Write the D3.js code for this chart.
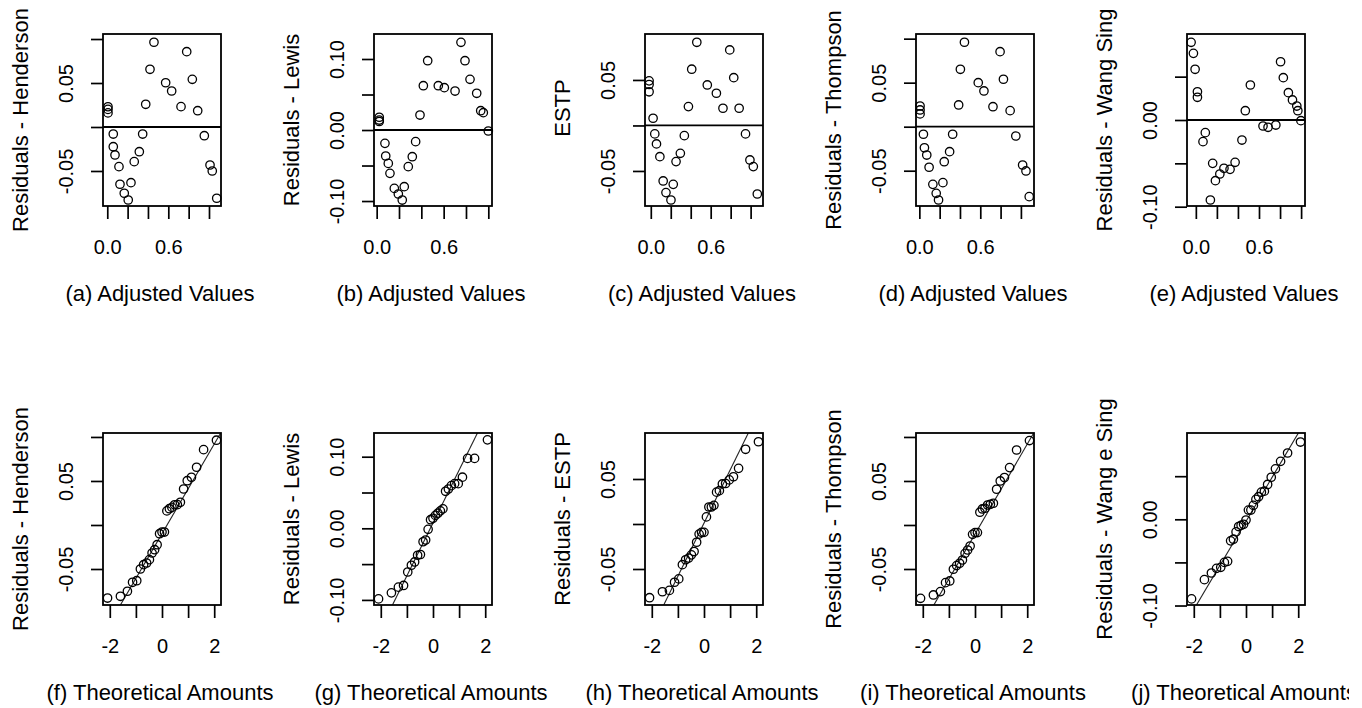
<!DOCTYPE html>
<html>
<head>
<meta charset="utf-8">
<script src="https://cdn.jsdelivr.net/npm/d3@7"></script>
<style>
  body { margin: 0; background: #fff; }
  text { font-family: "Liberation Sans", Arial, sans-serif; }
</style>
</head>
<body>
<div id="chart"></div>
<script>
// adjusted (fitted) values and residuals
const fitHenderson = [0.459,0.781,0.420,0.836,0.574,0.633,0.378,0.725,0.889,0.007,0.007,0.007,0.059,0.348,0.954,0.059,0.076,0.315,0.265,0.115,1.010,1.032,0.125,0.233,0.167,0.206,1.076];
const resHenderson = [0.0963,0.0856,0.0656,0.0542,0.0503,0.0409,0.0258,0.0231,0.0185,0.023,0.020,0.016,-0.008,-0.008,-0.0099,-0.0224,-0.0318,-0.0281,-0.0394,-0.0451,-0.0432,-0.050,-0.0651,-0.0633,-0.0753,-0.083,-0.081];

const fitLewis = [0.755,0.457,0.791,0.836,0.418,0.552,0.606,0.702,0.896,0.932,0.955,0.388,0.023,0.023,0.023,1.0,0.074,0.349,0.081,0.319,0.104,0.283,0.119,0.158,0.247,0.194,0.229];
const resLewis = [0.1235,0.0976,0.0976,0.0714,0.0624,0.0624,0.0596,0.0549,0.0517,0.0272,0.0244,0.0211,0.018,0.014,0.012,-0.0014,-0.0188,-0.0164,-0.0366,-0.0376,-0.047,-0.0516,-0.061,-0.0822,-0.0798,-0.0901,-0.0986];

const fitESTP = [0.461,0.791,0.410,0.831,0.566,0.657,0.377,0.723,0.885,-0.017,-0.017,-0.017,0.023,0.040,0.336,0.949,0.057,0.091,0.296,0.253,0.993,1.027,0.124,0.225,0.152,0.202,1.067];
const resESTP = [0.0914,0.0830,0.0618,0.0525,0.0445,0.0354,0.0207,0.0189,0.0189,0.049,0.045,0.037,0.0079,-0.0093,-0.0112,-0.0093,-0.0203,-0.0343,-0.0306,-0.0397,-0.0379,-0.0452,-0.061,-0.0647,-0.0738,-0.0819,-0.0753];

const fitThompson = [0.444,0.795,0.404,0.828,0.580,0.636,0.387,0.725,0.894,0.007,0.007,0.007,0.040,0.328,0.950,0.050,0.073,0.298,0.245,0.096,1.017,1.050,0.133,0.232,0.166,0.189,1.082];
const resThompson = [0.0959,0.0852,0.0652,0.0539,0.050,0.0406,0.0247,0.0227,0.0182,0.0235,0.019,0.0145,-0.0086,-0.0086,-0.0106,-0.0239,-0.0322,-0.0284,-0.0398,-0.0461,-0.0435,-0.0503,-0.0655,-0.0636,-0.0757,-0.0833,-0.0795];

const fitWangSing = [-0.045,-0.023,-0.007,0.015,0.015,0.518,0.470,0.805,0.831,0.879,0.918,0.959,0.969,0.998,0.638,0.686,0.760,0.090,0.068,0.438,0.160,0.373,0.325,0.267,0.228,0.186,0.138];
const resWangSing = [0.0896,0.0769,0.0585,0.0326,0.0262,0.0404,0.0107,0.0672,0.0488,0.0315,0.0231,0.0161,0.0107,-0.0008,-0.0069,-0.0084,-0.0058,-0.0146,-0.025,-0.0231,-0.050,-0.0488,-0.0569,-0.0557,-0.0623,-0.070,-0.0923];

// theoretical normal quantiles for 27 points
const theoQuantiles = [-2.086,-1.593,-1.325,-1.128,-0.967,-0.828,-0.704,-0.589,-0.482,-0.380,-0.282,-0.187,-0.093,0,0.093,0.187,0.282,0.380,0.482,0.589,0.704,0.828,0.967,1.128,1.325,1.593,2.086];

const letters = ['a','b','c','d','e','f','g','h','i','j'];
const topTitles = ['Residuals - Henderson','Residuals - Lewis','ESTP','Residuals - Thompson','Residuals - Wang Sing'];
const qqTitles = ['Residuals - Henderson','Residuals - Lewis','Residuals - ESTP','Residuals - Thompson','Residuals - Wang e Sing'];

const fitTicks = [0, 0.2, 0.4, 0.6, 0.8, 1.0];
const fitLabels = [0, 0.6];
const qTicks = [-2, -1, 0, 1, 2];
const qLabels = [-2, 0, 2];

// y ticks per method and which of them carry a label
const resTicks = [
  [-0.05, 0, 0.05, 0.10],
  [-0.10, -0.05, 0, 0.05, 0.10],
  [-0.05, 0, 0.05],
  [-0.05, 0, 0.05, 0.10],
  [-0.10, -0.05, 0, 0.05]
];
const resLabels = [
  [-0.05, 0.05],
  [-0.10, 0, 0.10],
  [-0.05, 0.05],
  [-0.05, 0.05],
  [-0.10, 0]
];

const fits = [fitHenderson, fitLewis, fitESTP, fitThompson, fitWangSing];
const resids = [resHenderson, resLewis, resESTP, resThompson, resWangSing];

// plot ranges (usr) as in the picture
const xDomTop = [[-0.042,1.118],[-0.024,1.033],[-0.058,1.124],[-0.033,1.129],[-0.084,1.037]];
const yDomTop = [[-0.0898,0.1057],[-0.107,0.1352],[-0.0885,0.1005],[-0.0901,0.1053],[-0.0992,0.0992]];
const xDomQQ = [-2.26, 2.26];
const yDomQQ = [[-0.0909,0.1045],[-0.1071,0.1331],[-0.09,0.1011],[-0.0909,0.1045],[-0.0994,0.1001]];

const W = 1362, H = 708;
const boxW = 118, boxH = 172;
const rowTop = [34, 433];
const titleShift = [0, 0, -12, 0, 0];

const loc = d3.formatLocale({decimal: '.', thousands: ',', grouping: [3], currency: ['', ''], minus: '-'});
const f1 = loc.format('.1f'), f2 = loc.format('.2f'), f0 = loc.format('d');

const svg = d3.select('#chart').append('svg')
  .attr('width', W).attr('height', H);
const defs = svg.append('defs');
defs.append('clipPath').attr('id', 'crop')
  .append('rect').attr('width', 1349).attr('height', H);
const fig = svg.append('g').attr('clip-path', 'url(#crop)');

function drawPanel(p) {
  const g = fig.append('g');
  const x = d3.scaleLinear().domain(p.xDom).range([p.left, p.left + boxW]);
  const y = d3.scaleLinear().domain(p.yDom).range([p.top + boxH, p.top]);

  // y axis
  g.append('g')
    .attr('transform', `translate(${p.left},0)`)
    .call(d3.axisLeft(y).tickValues(p.yTicks).tickSize(12)
      .tickFormat(v => p.yLabels.includes(v) ? f2(v) : ''))
    .call(a => a.select('.domain').remove())
    .call(a => a.selectAll('.tick line').attr('stroke', '#000').attr('stroke-width', 1.7))
    .call(a => a.selectAll('.tick text')
      .attr('font-size', 20).attr('font-family', '"Liberation Sans", Arial, sans-serif')
      .attr('x', 0).attr('dy', '0.35em').attr('fill', '#000')
      .attr('text-anchor', 'middle')
      .attr('transform', 'translate(-37,0) rotate(-90)'));

  // x axis
  g.append('g')
    .attr('transform', `translate(0,${p.top + boxH})`)
    .call(d3.axisBottom(x).tickValues(p.xTicks).tickSize(13)
      .tickFormat(v => p.xLabels.includes(v) ? p.xFmt(v) : ''))
    .call(a => a.select('.domain').remove())
    .call(a => a.selectAll('.tick line').attr('stroke', '#000').attr('stroke-width', 1.7))
    .call(a => a.selectAll('.tick text')
      .attr('font-size', 20).attr('font-family', '"Liberation Sans", Arial, sans-serif')
      .attr('y', 41).attr('dy', '0.35em').attr('fill', '#000'));

  const clipId = 'clip' + p.id;
  defs.append('clipPath').attr('id', clipId)
    .append('rect').attr('x', p.left).attr('y', p.top).attr('width', boxW).attr('height', boxH);

  if (p.zero) {
    g.append('line')
      .attr('x1', x.range()[0]).attr('x2', x.range()[1])
      .attr('y1', y(0)).attr('y2', y(0))
      .attr('stroke', '#000').attr('stroke-width', 1.8);
  }
  if (p.qq) {
    const xs = xDomQQ;
    g.append('line')
      .attr('clip-path', `url(#${clipId})`)
      .attr('x1', x(xs[0])).attr('x2', x(xs[1]))
      .attr('y1', y(p.qq.a + p.qq.b * xs[0])).attr('y2', y(p.qq.a + p.qq.b * xs[1]))
      .attr('stroke', '#222').attr('stroke-width', 1.1);
  }

  g.selectAll('circle.pt')
    .data(p.pts)
    .join('circle')
    .attr('class', 'pt')
    .attr('cx', d => x(d[0]))
    .attr('cy', d => y(d[1]))
    .attr('r', 4.2)
    .attr('fill', 'none')
    .attr('stroke', '#000')
    .attr('stroke-width', 1.3);

  g.append('rect')
    .attr('x', p.left).attr('y', p.top)
    .attr('width', boxW).attr('height', boxH)
    .attr('fill', 'none').attr('stroke', '#000').attr('stroke-width', 1.8);

  g.append('text')
    .attr('x', p.left + boxW / 2 - 2).attr('y', p.top + boxH + 87)
    .attr('dy', '0.35em').attr('text-anchor', 'middle')
    .attr('font-size', 22).attr('fill', '#000')
    .text(p.xTitle);

  g.append('text')
    .attr('transform', `translate(${p.left - 83},${p.top + boxH / 2 + p.shift}) rotate(-90)`)
    .attr('dy', '0.35em').attr('text-anchor', 'middle')
    .attr('font-size', 22).attr('fill', '#000')
    .text(p.yTitle);
}

fits.forEach((fit, i) => {
  const left = 103 + 271 * i;
  const res = resids[i];

  drawPanel({
    id: 't' + i, left: left, top: rowTop[0],
    xDom: xDomTop[i], yDom: yDomTop[i],
    xTicks: fitTicks, xLabels: fitLabels, xFmt: f1,
    yTicks: resTicks[i], yLabels: resLabels[i],
    pts: fit.map((v, k) => [v, res[k]]),
    zero: true,
    xTitle: `(${letters[i]}) Adjusted Values`,
    yTitle: topTitles[i], shift: titleShift[i]
  });

  // normal QQ: sorted residuals against theoretical quantiles, line through quartiles
  const sorted = res.slice().sort(d3.ascending);
  const q1 = d3.quantile(sorted, 0.25), q3 = d3.quantile(sorted, 0.75);
  const z = 0.6745;
  const b = (q3 - q1) / (2 * z);
  const a = q1 + b * z;

  drawPanel({
    id: 'q' + i, left: left, top: rowTop[1],
    xDom: xDomQQ, yDom: yDomQQ[i],
    xTicks: qTicks, xLabels: qLabels, xFmt: f0,
    yTicks: resTicks[i], yLabels: resLabels[i],
    pts: theoQuantiles.map((q, k) => [q, sorted[k]]),
    qq: {a: a, b: b},
    xTitle: `(${letters[i + 5]}) Theoretical Amounts`,
    yTitle: qqTitles[i], shift: 0
  });
});
</script>
</body>
</html>
